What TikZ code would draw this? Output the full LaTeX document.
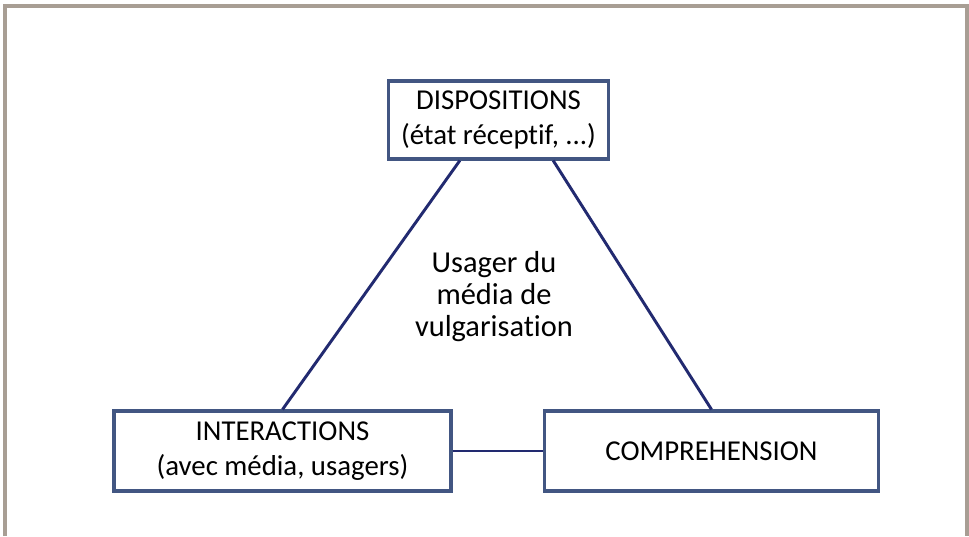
\documentclass[tikz,border=0pt]{standalone}
\usepackage{fontspec}
\setmainfont{Carlito}[Ligatures={NoCommon,NoRequired}]
\definecolor{framegray}{RGB}{168,158,148}
\definecolor{boxblue}{RGB}{66,86,130}
\definecolor{linenavy}{RGB}{34,42,112}

\begin{document}
\begin{tikzpicture}[x=0.75pt,y=-0.75pt]
  \useasboundingbox (0,0) rectangle (969,536);
  \fill[white] (0,0) rectangle (969,536);

%% outer frame (open at the bottom)
  \draw[framegray,line width=2.4pt] (5,536) -- (5,6) -- (967,6) -- (967,536);

  \tikzstyle{every node}=[rectangle,draw=boxblue,line width=2.3pt,fill=white,
                          align=center,font=\fontsize{21.6}{26}\selectfont]
  \node[minimum width=220*0.75pt,minimum height=78*0.75pt] (dispositions)  at (498.5,120) {DISPOSITIONS\\(état réceptif, ...)};
  \node[minimum width=337*0.75pt,minimum height=80*0.75pt] (interactions)  at (282.5,451) {INTERACTIONS\\(avec média, usagers)};
  \node[minimum width=334*0.75pt,minimum height=80*0.75pt] (comprehension) at (711.5,451) {COMPREHENSION};

%% centre text
  \node[draw=none,fill=none,font=\fontsize{22.8}{24}\selectfont] (usager) at (494,297) {Usager du\\média de\\vulgarisation};

%% draw connections
  \tikzstyle{every path}=[draw=linenavy,line width=2.2pt]
  \draw ([xshift=-29pt] dispositions.south) -- (interactions.north);
  \draw ([xshift= 41pt] dispositions.south) -- (comprehension.north);
  \draw (interactions.east) -- (comprehension.west);
\end{tikzpicture}
\end{document}
